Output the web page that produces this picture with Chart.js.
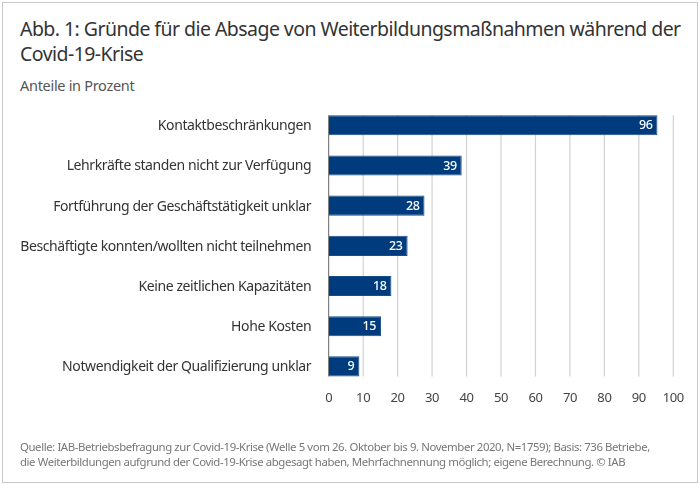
<!DOCTYPE html>
<html lang="de">
<head>
<meta charset="utf-8">
<script src="https://cdn.jsdelivr.net/npm/chart.js@4"></script>
<style>
  html, body { margin: 0; padding: 0; background: #fff; }
  #frame { position: relative; width: 700px; height: 485px; overflow: hidden; font-family: "Noto Sans", sans-serif; }
  #frame .border { position: absolute; left: 2px; top: 2px; width: 694px; height: 479px; border: 1.5px solid #c8c8c8; }
  #title { position: absolute; left: 20px; top: 16px; width: 670px; font-size: 19.5px; line-height: 25px; color: #333; letter-spacing: -0.55px; }
  #subtitle { position: absolute; left: 20px; top: 75px; font-size: 14.5px; line-height: 20px; color: #555; letter-spacing: -0.3px; }
  #source { position: absolute; left: 20px; top: 439px; font-size: 11.4px; line-height: 15px; color: #777; letter-spacing: -0.41px; white-space: nowrap; }
  canvas { position: absolute; left: 0; top: 0; }
</style>
</head>
<body>
<div id="frame">
  <div class="border"></div>
  <div id="title">Abb. 1: Gründe für die Absage von Weiterbildungsmaßnahmen während der Covid-19-Krise</div>
  <div id="subtitle">Anteile in Prozent</div>
  <canvas id="chart" width="700" height="485"></canvas>
  <div id="source">Quelle: IAB-Betriebsbefragung zur Covid-19-Krise (Welle 5 vom 26. Oktober bis 9. November 2020, N=1759); Basis: 736 Betriebe,<br>die Weiterbildungen aufgrund der Covid-19-Krise abgesagt haben, Mehrfachnennung möglich; eigene Berechnung. © IAB</div>
</div>
<script>
const categories = [
  'Kontaktbeschränkungen',
  'Lehrkräfte standen nicht zur Verfügung',
  'Fortführung der Geschäftstätigkeit unklar',
  'Beschäftigte konnten/wollten nicht teilnehmen',
  'Keine zeitlichen Kapazitäten',
  'Hohe Kosten',
  'Notwendigkeit der Qualifizierung unklar'
];
// bar lengths as measured, the printed labels are rounded
const shares = [95.4, 38.6, 27.8, 22.9, 18.2, 15.2, 8.9];
const shareLabels = ['96', '39', '28', '23', '18', '15', '9'];
const fontFamily = '"Noto Sans", sans-serif';

// tighter text on the canvas
const tightText = {
  id: 'tightText',
  beforeDraw(chart) {
    chart.ctx.letterSpacing = '-0.4px';
  }
};

// grid and axis line only span from the first bar's top to the last bar's bottom
const shortGrid = {
  id: 'shortGrid',
  beforeDatasetsDraw(chart) {
    const ctx = chart.ctx;
    const bars = chart.getDatasetMeta(0).data;
    const xScale = chart.scales.x;
    const top = bars[0].y - bars[0].height / 2;
    const bottom = bars[bars.length - 1].y + bars[bars.length - 1].height / 2;
    ctx.save();
    xScale.ticks.forEach(t => {
      const x = xScale.getPixelForValue(t.value);
      ctx.strokeStyle = t.value === 0 ? '#666' : '#d2d2d2';
      ctx.lineWidth = t.value === 0 ? 1 : 1.2;
      ctx.beginPath();
      ctx.moveTo(x, top);
      ctx.lineTo(x, bottom);
      ctx.stroke();
    });
    ctx.restore();
  }
};

// white numbers inside the bar ends
const barValues = {
  id: 'barValues',
  afterDatasetsDraw(chart) {
    const ctx = chart.ctx;
    const bars = chart.getDatasetMeta(0).data;
    ctx.save();
    ctx.font = '500 12.5px ' + fontFamily;
    ctx.fillStyle = '#fff';
    ctx.textAlign = 'right';
    ctx.textBaseline = 'middle';
    bars.forEach((bar, i) => {
      ctx.fillText(shareLabels[i], bar.x - 5, bar.y + 0.5);
    });
    ctx.restore();
  }
};

new Chart(document.getElementById('chart'), {
  type: 'bar',
  data: {
    labels: categories,
    datasets: [{
      data: shares,
      backgroundColor: '#003c7d',
      borderColor: '#184d88',
      borderWidth: 1,
      categoryPercentage: 1,
      barPercentage: 0.5
    }]
  },
  options: {
    indexAxis: 'y',
    responsive: false,
    animation: false,
    layout: { padding: { left: 0, right: 26.7, top: 105.2, bottom: 58.5 } },
    plugins: {
      legend: { display: false },
      tooltip: { enabled: false }
    },
    scales: {
      x: {
        min: 0,
        max: 100,
        afterFit(scale) { scale.height = 40; },
        ticks: { stepSize: 10, maxRotation: 0, color: '#444', padding: 4, font: { family: fontFamily, size: 13 } },
        grid: { display: false, drawTicks: false },
        border: { display: false }
      },
      y: {
        afterFit(scale) { scale.width = 328.7; },
        ticks: { color: '#333', padding: 17.5, labelOffset: 1, autoSkip: false, font: { family: fontFamily, size: 14 } },
        grid: { display: false, drawTicks: false },
        border: { display: false }
      }
    }
  },
  plugins: [tightText, shortGrid, barValues]
});
</script>
</body>
</html>
